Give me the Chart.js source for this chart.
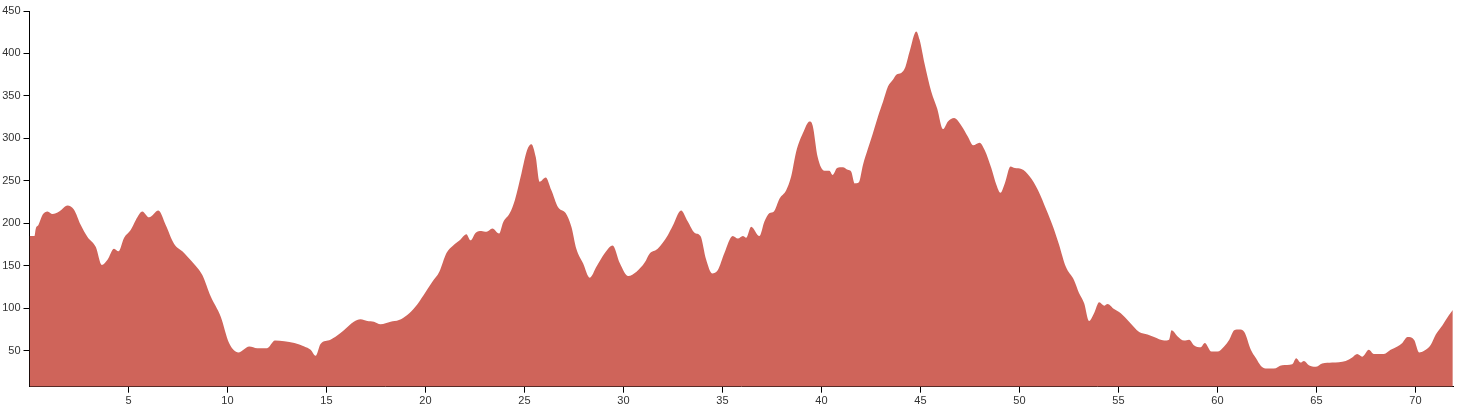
<!DOCTYPE html>
<html>
<head>
<meta charset="utf-8">
<title>Elevation profile</title>
<script src="https://cdn.jsdelivr.net/npm/chart.js@4.4.1/dist/chart.umd.min.js"></script>
<style>
  html, body { margin: 0; padding: 0; background: #fff; }
  #wrap { width: 1458px; height: 408px; }
</style>
</head>
<body>
<div id="wrap"><canvas id="elevationChart" width="1458" height="408"></canvas></div>
<script>
// distance along the route (km) and elevation (m)
const distanceKm = [
  0, 0.25, 0.32, 0.45, 0.66, 0.91, 1.16, 1.5, 1.92, 2.25, 2.59, 2.93, 3.35, 3.65, 3.94,
  4.27, 4.49, 4.78, 5.11, 5.37, 5.7, 6.04, 6.51, 6.88, 7.3, 7.72, 7.97, 8.39, 8.73, 9.15,
  9.66, 10.08, 10.55, 11.1, 11.5, 12.0, 12.4, 12.87, 13.38, 13.88, 14.2, 14.45, 14.7, 15.2, 15.54,
  15.88, 16.38, 16.72, 17.06, 17.4, 17.73, 18.24, 18.66, 19.08, 19.5, 19.92, 20.34, 20.7, 21.06, 21.4,
  21.73, 22.07, 22.27, 22.54, 22.82, 23.08, 23.38, 23.72, 23.92, 24.26, 24.51, 24.85, 25.13, 25.35, 25.57,
  25.77, 26.07, 26.36, 26.7, 27.08, 27.37, 27.62, 27.96, 28.3, 28.64, 29.06, 29.45, 29.82, 30.24, 30.66,
  31.08, 31.31, 31.73, 32.24, 32.49, 32.91, 33.25, 33.59, 33.89, 34.18, 34.48, 34.77, 35.1, 35.52, 35.78,
  36.03, 36.2, 36.45, 36.87, 37.12, 37.38, 37.6, 37.88, 38.22, 38.47, 38.72, 39.06, 39.4, 39.56, 39.81,
  40.15, 40.4, 40.57, 40.79, 41.08, 41.33, 41.5, 41.68, 41.88, 42.1, 42.35, 42.6, 42.86, 43.11, 43.36,
  43.61, 43.78, 44.03, 44.24, 44.45, 44.79, 44.96, 45.21, 45.55, 45.85, 46.14, 46.39, 46.7, 47.07, 47.4,
  47.66, 47.99, 48.25, 48.58, 48.84, 49.04, 49.26, 49.55, 49.77, 50.1, 50.52, 50.94, 51.36, 51.7, 52.0,
  52.34, 52.76, 53.01, 53.27, 53.52, 53.77, 54.03, 54.28, 54.45, 54.78, 55.12, 55.54, 56.05, 56.47, 56.8,
  57.31, 57.56, 57.68, 57.81, 57.98, 58.32, 58.57, 58.83, 59.16, 59.36, 59.7, 60.0, 60.34, 60.6, 60.85,
  61.1, 61.36, 61.69, 61.95, 62.2, 62.43, 62.85, 63.27, 63.78, 63.98, 64.2, 64.37, 64.62, 64.96, 65.29,
  65.8, 66.48, 66.81, 67.06, 67.32, 67.65, 67.9, 68.41, 68.75, 69.09, 69.34, 69.6, 69.93, 70.19, 70.44,
  70.78, 71.03, 71.37, 71.7, 71.89
];
const elevation = [
  185, 185, 194, 198, 210, 214, 211, 214, 221, 216, 198, 184, 172, 151, 157,
  170, 167, 183, 192, 204, 214, 207, 215, 198, 176, 167, 161, 150, 139, 114,
  90, 59, 48, 55, 53, 53, 62, 61, 59, 55, 51, 44, 58, 63, 68,
  74, 84, 87, 85, 84, 81, 84, 86, 92, 102, 116, 131, 143, 165, 174,
  180, 187, 180, 189, 191, 190, 194, 188, 201, 212, 227, 259, 286, 293, 278,
  249, 254, 239, 219, 212, 196, 170, 153, 136, 149, 165, 174, 153, 138, 143,
  154, 164, 170, 186, 197, 215, 202, 189, 185, 157, 141, 145, 165, 185, 182,
  185, 183, 196, 185, 202, 212, 214, 229, 239, 255, 284, 306, 320, 315, 278,
  262, 262, 257, 265, 266, 263, 261, 247, 248, 269, 288, 306, 326, 343, 361,
  369, 375, 377, 384, 402, 426, 416, 388, 355, 335, 311, 320, 324, 315, 302,
  292, 295, 286, 265, 245, 236, 247, 267, 265, 264, 255, 239, 216, 196, 175,
  149, 133, 118, 106, 85, 94, 107, 103, 105, 99, 94, 84, 72, 69, 66,
  62, 63, 74, 72, 67, 62, 63, 56, 54, 59, 49, 49, 55, 63, 74,
  75, 72, 51, 41, 32, 29, 29, 33, 34, 41, 36, 38, 33, 31, 35,
  36, 38, 42, 46, 43, 51, 46, 46, 51, 55, 59, 66, 63, 48, 50,
  57, 69, 80, 92, 98
];
const xTickLabels = [5, 10, 15, 20, 25, 30, 35, 40, 45, 50, 55, 60, 65, 70];
const yTickLabels = [50, 100, 150, 200, 250, 300, 350, 400, 450];

const points = distanceKm.map((d, i) => ({ x: d, y: elevation[i] }));

const tickFont = { family: "'Liberation Sans', Arial, sans-serif", size: 11 };

const ctx = document.getElementById('elevationChart').getContext('2d');
new Chart(ctx, {
  type: 'line',
  data: {
    datasets: [{
      data: points,
      fill: 'start',
      backgroundColor: 'rgb(207, 100, 90)',
      borderColor: 'rgba(0, 0, 0, 0)',
      borderWidth: 0,
      pointRadius: 0,
      cubicInterpolationMode: 'monotone'
    }]
  },
  options: {
    responsive: false,
    animation: false,
    layout: { padding: { left: 0, top: 11, right: 5, bottom: 0 } },
    plugins: {
      legend: { display: false },
      tooltip: { enabled: false }
    },
    scales: {
      x: {
        type: 'linear',
        min: 0,
        max: 71.9,
        afterBuildTicks: scale => { scale.ticks = xTickLabels.map(v => ({ value: v })); },
        afterFit: scale => { scale.height = 21.3; },
        grid: { drawOnChartArea: false, tickLength: 6, color: '#000' },
        border: { display: true, color: '#000' },
        ticks: { padding: 2, maxRotation: 0, autoSkip: false, color: '#333', font: tickFont }
      },
      y: {
        type: 'linear',
        min: 7.6,
        max: 450,
        afterBuildTicks: scale => { scale.ticks = yTickLabels.map(v => ({ value: v })); },
        afterFit: scale => { scale.width = 29.5; },
        grid: { drawOnChartArea: false, tickLength: 6, color: '#000' },
        border: { display: true, color: '#000' },
        ticks: { padding: 3, autoSkip: false, color: '#333', font: tickFont }
      }
    }
  }
});
</script>
</body>
</html>
